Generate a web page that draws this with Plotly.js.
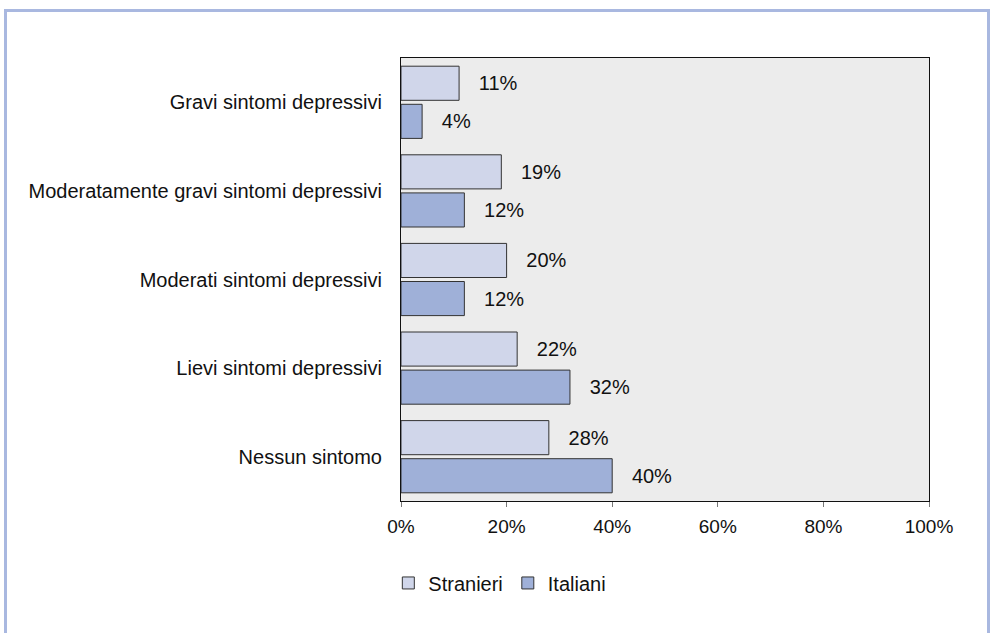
<!DOCTYPE html>
<html>
<head>
<meta charset="utf-8">
<script src="https://cdn.plot.ly/plotly-3.0.1.min.js"></script>
<style>
  html, body { margin: 0; padding: 0; background: #ffffff; }
  #wrap { position: relative; width: 997px; height: 633px; overflow: hidden; }
  #frame { position: absolute; left: 4px; top: 9px; width: 986px; height: 700px; border: 3px solid #a9b8e0; box-sizing: border-box; pointer-events: none; }
  #chart { position: absolute; left: 0; top: 0; width: 997px; height: 633px; }
</style>
</head>
<body>
<div id="wrap">
  <div id="chart"></div>
  <div id="frame"></div>
</div>
<script>
const categories = [
  "Gravi sintomi depressivi",
  "Moderatamente gravi sintomi depressivi",
  "Moderati sintomi depressivi",
  "Lievi sintomi depressivi",
  "Nessun sintomo"
];
const stranieri = [11, 19, 20, 22, 28];
const italiani = [4, 12, 12, 32, 40];
const seriesNames = ["Stranieri", "Italiani"];
const xTickVals = [0, 20, 40, 60, 80, 100];
const xTickText = ["0%", "20%", "40%", "60%", "80%", "100%"];

const pad = "\u00a0\u00a0\u00a0";
const FAM = "'Liberation Sans', Arial, Helvetica, sans-serif";
const textFont = { family: FAM, size: 20, color: "#111111" };

const traces = [
  {
    type: "bar", orientation: "h", name: seriesNames[0],
    y: categories, x: stranieri,
    text: stranieri.map(v => pad + v + "%"),
    textposition: "outside", constraintext: "none", cliponaxis: false,
    textfont: textFont, outsidetextfont: textFont,
    marker: { color: "#d0d6ea", line: { color: "#333333", width: 1 } },
    hoverinfo: "skip"
  },
  {
    type: "bar", orientation: "h", name: seriesNames[1],
    y: categories, x: italiani,
    text: italiani.map(v => pad + v + "%"),
    textposition: "outside", constraintext: "none", cliponaxis: false,
    textfont: textFont, outsidetextfont: textFont,
    marker: { color: "#9fb0d8", line: { color: "#333333", width: 1 } },
    hoverinfo: "skip"
  }
];

const layout = {
  width: 997, height: 633,
  margin: { l: 401, r: 68, t: 58, b: 132, pad: 0 },
  paper_bgcolor: "#ffffff",
  plot_bgcolor: "#ececec",
  barmode: "group",
  bargap: 0.14,
  bargroupgap: 0.105,
  font: { family: FAM, size: 20, color: "#111111" },
  showlegend: true,
  legend: {
    orientation: "h", x: -0.024, xanchor: "left", y: -0.185, yanchor: "middle",
    font: { family: FAM, size: 20, color: "#111111" }, itemwidth: 30, traceorder: "normal"
  },
  xaxis: {
    range: [0, 100], tickvals: xTickVals, ticktext: xTickText,
    showgrid: false, zeroline: false,
    showline: true, linecolor: "#111111", linewidth: 1, mirror: true,
    ticks: "outside", ticklen: 5, tickcolor: "#777777", tickwidth: 1,
    ticklabelstandoff: 3,
    tickfont: { family: FAM, size: 19, color: "#111111" }
  },
  yaxis: {
    type: "category", autorange: "reversed",
    categoryorder: "array", categoryarray: categories,
    showgrid: false, zeroline: false,
    showline: true, linecolor: "#111111", linewidth: 1, mirror: true,
    ticks: "", ticklabelstandoff: 14,
    tickfont: { family: FAM, size: 20, color: "#111111" }
  }
};

Plotly.newPlot("chart", traces, layout, { displayModeBar: false, staticPlot: true });
</script>
</body>
</html>
